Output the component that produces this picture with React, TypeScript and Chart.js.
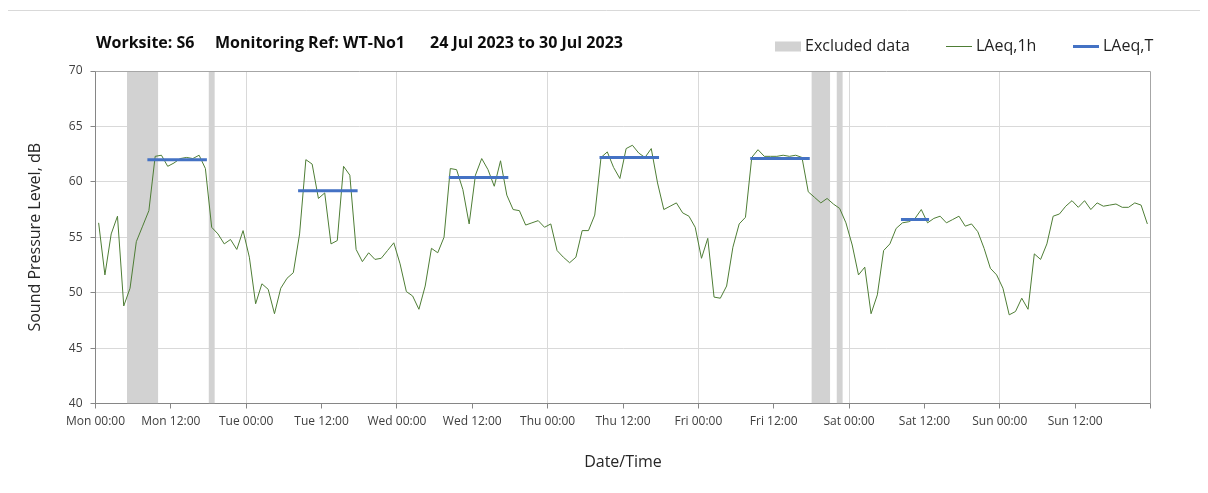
import React, { useEffect, useRef } from 'react';
import { Chart, registerables } from 'chart.js';

Chart.register(...registerables);

const FONT = '"Open Sans", "DejaVu Sans", sans-serif';

// ---- text ----
const titleParts = ['Worksite: S6', 'Monitoring Ref: WT-No1', '24 Jul 2023 to 30 Jul 2023'];
const xAxisTitle = 'Date/Time';
const yAxisTitle = 'Sound Pressure Level, dB';
const xTickLabels = [
  'Mon 00:00', 'Mon 12:00', 'Tue 00:00', 'Tue 12:00', 'Wed 00:00', 'Wed 12:00', 'Thu 00:00',
  'Thu 12:00', 'Fri 00:00', 'Fri 12:00', 'Sat 00:00', 'Sat 12:00', 'Sun 00:00', 'Sun 12:00',
];

// ---- axes ----
const yMin = 40;
const yMax = 70;
const yStep = 5;
const hoursInWeek = 168;
const xTickStepHours = 12;

// ---- LAeq,1h hourly values (Mon 00:00 .. Sun 23:00) ----
const laeq1hMon = [56.3, 51.6, 55.3, 56.9, 48.8, 50.4, 54.6, 56.0, 57.4, 62.3, 62.4, 61.4, 61.7, 62.1, 62.2, 62.1, 62.4, 61.2, 55.9, 55.3, 54.4, 54.8, 53.9, 55.6];
const laeq1hTue = [53.2, 49.0, 50.8, 50.3, 48.1, 50.4, 51.3, 51.8, 55.3, 62.0, 61.6, 58.5, 59.0, 54.4, 54.7, 61.4, 60.6, 53.9, 52.8, 53.6, 53.0, 53.1, 53.8, 54.5];
const laeq1hWed = [52.6, 50.1, 49.7, 48.5, 50.6, 54.0, 53.6, 55.0, 61.2, 61.1, 59.3, 56.2, 60.6, 62.1, 61.1, 59.6, 61.9, 58.8, 57.5, 57.4, 56.1, 56.3, 56.5, 55.9];
const laeq1hThu = [56.2, 53.8, 53.2, 52.7, 53.2, 55.6, 55.6, 57.0, 62.2, 62.7, 61.3, 60.3, 63.0, 63.3, 62.6, 62.2, 63.0, 59.9, 57.5, 57.8, 58.1, 57.2, 56.9, 55.9];
const laeq1hFri = [53.1, 54.9, 49.6, 49.5, 50.6, 54.1, 56.2, 56.8, 62.2, 62.9, 62.3, 62.3, 62.3, 62.4, 62.3, 62.4, 62.2, 59.1, 58.6, 58.1, 58.5, 58.0, 57.6, 56.3];
const laeq1hSat = [54.3, 51.6, 52.3, 48.1, 49.8, 53.8, 54.4, 55.8, 56.3, 56.4, 56.7, 57.5, 56.3, 56.7, 56.9, 56.3, 56.6, 56.9, 56.0, 56.2, 55.5, 54.0, 52.2, 51.6];
const laeq1hSun = [50.4, 48.0, 48.3, 49.5, 48.5, 53.5, 53.0, 54.4, 56.9, 57.1, 57.8, 58.3, 57.7, 58.3, 57.5, 58.1, 57.8, 57.9, 58.0, 57.7, 57.7, 58.1, 57.9, 56.2];

// ---- LAeq,T daytime periods (hour index of first and last hourly value) ----
const periodStartHour = [8, 32, 56, 80, 104, 128];
const periodEndHour = [17, 41, 65, 89, 113, 132];
const laeqT = [62.0, 59.2, 60.4, 62.2, 62.1, 56.6];

// ---- excluded data periods (hours from Mon 00:00) ----
const excludedStartHour = [5, 18, 114, 118];
const excludedEndHour = [10, 19, 117, 119];

// ---- colours ----
const colExcluded = '#d2d2d2';
const colHourly = '#4e7d35';
const colPeriod = '#4472c4';

const framePlugin = {
  id: 'framePlugin',
  beforeDraw(chart: any) {
    const { ctx } = chart;
    ctx.save();
    ctx.strokeStyle = '#d9d9d9';
    ctx.lineWidth = 1;
    ctx.beginPath();
    ctx.moveTo(5.5, chart.height);
    ctx.lineTo(5.5, 10.5);
    ctx.lineTo(chart.width, 10.5);
    ctx.stroke();
    ctx.restore();
  },
  afterDatasetsDraw(chart: any) {
    const { ctx, chartArea: a } = chart;
    const t = Math.floor(a.top) + 0.5;
    const r = Math.floor(a.right) + 0.5;
    const b = Math.floor(a.bottom) + 0.5;
    ctx.save();
    ctx.strokeStyle = '#a6a6a6';
    ctx.lineWidth = 1;
    ctx.beginPath();
    ctx.moveTo(Math.floor(a.left) + 0.5, t);
    ctx.lineTo(r, t);
    ctx.lineTo(r, b);
    ctx.stroke();
    ctx.restore();
  },
};

const headerPlugin = {
  id: 'headerPlugin',
  afterDraw(chart: any) {
    const { ctx } = chart;
    ctx.save();
    // title
    ctx.font = `bold 16px ${FONT}`;
    ctx.fillStyle = '#0d0d0d';
    ctx.textBaseline = 'middle';
    ctx.textAlign = 'left';
    const titleX = [96, 215, 430];
    const titleW = [104, 194, 194];
    titleParts.forEach((t, i) => ctx.fillText(t, titleX[i], 43, titleW[i]));

    // legend
    ctx.font = `16px ${FONT}`;
    const sw = 26;
    const gapText = 4;
    const itemX = [775, 946, 1073];
    const itemTextW = [108, 63, 56];
    const cy = 46.5;
    chart.data.datasets.forEach((d: any, i: number) => {
      const x = itemX[i];
      if (d.fill) {
        ctx.fillStyle = d.backgroundColor;
        ctx.fillRect(x, cy - 5, sw, 10);
      } else {
        ctx.strokeStyle = d.borderColor;
        ctx.lineWidth = d.borderWidth;
        ctx.beginPath();
        ctx.moveTo(x, cy);
        ctx.lineTo(x + sw, cy);
        ctx.stroke();
      }
      ctx.fillStyle = '#1f1f1f';
      ctx.fillText(d.label, x + sw + gapText, cy, itemTextW[i]);
    });
    ctx.restore();
  },
};

export default function App() {
  const ref = useRef<HTMLCanvasElement>(null);

  useEffect(() => {
    const canvas = ref.current;
    if (!canvas) return;

    const laeq1h = [...laeq1hMon, ...laeq1hTue, ...laeq1hWed, ...laeq1hThu, ...laeq1hFri, ...laeq1hSat, ...laeq1hSun];
    const hourlyPoints = laeq1h.map((v, i) => ({ x: i + 0.5, y: v }));
    const periodPoints = laeqT.flatMap((v, k) => [
      { x: periodStartHour[k] + 0.5, y: v },
      { x: periodEndHour[k] + 0.5, y: v },
      { x: periodEndHour[k] + 0.75, y: null },
    ]);
    const excludedPoints = excludedStartHour.flatMap((s, k) => [
      { x: s, y: yMax },
      { x: excludedEndHour[k], y: yMax },
      { x: excludedEndHour[k], y: null },
    ]);

    const chart = new Chart(canvas, {
      type: 'line',
      data: {
        datasets: [
          {
            label: 'Excluded data',
            data: excludedPoints as any,
            borderWidth: 0,
            borderColor: 'rgba(0,0,0,0)',
            backgroundColor: colExcluded,
            fill: 'start',
            pointRadius: 0,
            spanGaps: false,
            order: 3,
          },
          {
            label: 'LAeq,1h',
            data: hourlyPoints,
            borderColor: colHourly,
            backgroundColor: colHourly,
            borderWidth: 1,
            pointRadius: 0,
            fill: false,
            tension: 0,
            order: 2,
          },
          {
            label: 'LAeq,T',
            data: periodPoints as any,
            borderColor: colPeriod,
            backgroundColor: colPeriod,
            borderWidth: 3,
            borderCapStyle: 'square',
            pointRadius: 0,
            fill: false,
            spanGaps: false,
            order: 1,
          },
        ],
      },
      options: {
        animation: false,
        responsive: true,
        maintainAspectRatio: false,
        devicePixelRatio: 1,
        events: [],
        layout: { padding: { top: 71, right: 57.5, bottom: 0, left: 0 } },
        plugins: {
          legend: { display: false },
          title: { display: false },
          tooltip: { enabled: false },
        },
        scales: {
          x: {
            type: 'linear',
            min: 0,
            max: hoursInWeek,
            ticks: {
              stepSize: xTickStepHours,
              autoSkip: false,
              maxRotation: 0,
              minRotation: 0,
              padding: 6,
              color: '#404040',
              font: { family: FONT, size: 12 },
              callback: (v: any) => xTickLabels[Math.round(Number(v) / xTickStepHours)] ?? '',
            },
            grid: {
              color: (c: any) => {
                const v = c.tick ? c.tick.value : 0;
                return v % 24 === 0 && v > 0 && v < hoursInWeek ? '#d9d9d9' : 'rgba(0,0,0,0)';
              },
              tickColor: '#868686',
              tickLength: 5,
            },
            border: { color: '#868686' },
            title: {
              display: true,
              text: xAxisTitle,
              color: '#262626',
              font: { family: FONT, size: 16 },
              padding: { top: 0, bottom: 21.4 },
            },
            afterFit: (s: any) => {
              s.height = 89.5;
            },
          },
          y: {
            min: yMin,
            max: yMax,
            ticks: {
              stepSize: yStep,
              padding: 8,
              color: '#404040',
              font: { family: FONT, size: 12 },
            },
            grid: {
              color: (c: any) => {
                const v = c.tick ? c.tick.value : 0;
                return v === yMin || v === yMax ? 'rgba(0,0,0,0)' : '#d9d9d9';
              },
              tickColor: '#868686',
              tickLength: 5,
            },
            border: { color: '#868686' },
            title: {
              display: true,
              text: yAxisTitle,
              color: '#262626',
              font: { family: FONT, size: 16 },
              padding: { top: 25.4, bottom: 0 },
            },
            afterFit: (s: any) => {
              s.width = 95.5;
            },
          },
        },
      },
      plugins: [framePlugin, headerPlugin],
    });

    return () => chart.destroy();
  }, []);

  return (
    <div style={{ position: 'relative', width: 1208, height: 493, margin: -8 }}>
      <canvas ref={ref} style={{ display: 'block' }} />
    </div>
  );
}
